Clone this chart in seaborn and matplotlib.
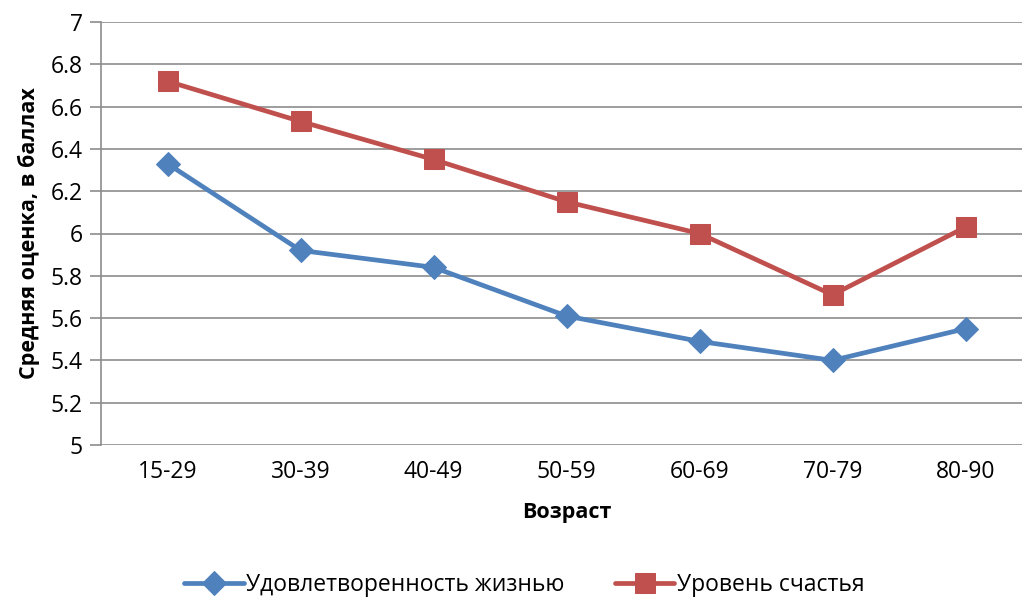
import matplotlib
matplotlib.use("Agg")
import matplotlib.pyplot as plt
import seaborn as sns
import pandas as pd

age_groups = ["15-29", "30-39", "40-49", "50-59", "60-69", "70-79", "80-90"]
life_satisfaction = [6.33, 5.92, 5.84, 5.61, 5.49, 5.40, 5.55]
happiness_level = [6.72, 6.53, 6.35, 6.15, 6.00, 5.71, 6.03]
series_names = ["Удовлетворенность жизнью", "Уровень счастья"]
y_ticks = [5, 5.2, 5.4, 5.6, 5.8, 6, 6.2, 6.4, 6.6, 6.8, 7]

sns.set_theme(style="white")
plt.rcParams["font.family"] = ["Open Sans", "DejaVu Sans"]
plt.rcParams["text.color"] = "black"
plt.rcParams["axes.labelcolor"] = "black"
plt.rcParams["xtick.labelcolor"] = "black"
plt.rcParams["ytick.labelcolor"] = "black"

blue = "#4F81BD"
red = "#C0504D"
grid_c = "#8C8C8C"

fig = plt.figure(figsize=(10.22, 6.02), dpi=100)
ax = fig.add_axes([101 / 1022, 1 - 445 / 602, 931 / 1022, (445 - 22) / 602])

df_blue = pd.DataFrame({"age": range(len(age_groups)), "value": life_satisfaction})
df_red = pd.DataFrame({"age": range(len(age_groups)), "value": happiness_level})

sns.lineplot(data=df_blue, x="age", y="value", ax=ax, color=blue, linewidth=3.4,
             marker="D", markersize=12, markeredgecolor=blue, label=series_names[0])
sns.lineplot(data=df_red, x="age", y="value", ax=ax, color=red, linewidth=3.4,
             marker="s", markersize=14, markeredgecolor=red, label=series_names[1])

ax.set_xlim(-0.5, len(age_groups) - 0.5)
ax.set_ylim(5, 7)
ax.set_yticks(y_ticks)
ax.set_yticklabels([f"{t:g}" for t in y_ticks], fontsize=16.5)
ax.set_xticks(range(len(age_groups)))
ax.set_xticklabels(age_groups, fontsize=16.5)
ax.tick_params(axis="x", length=0, pad=11)
ax.set_xticks([i - 0.5 for i in range(len(age_groups) + 1)], minor=True)
ax.tick_params(axis="x", which="minor", length=8, width=1.2, color=grid_c, direction="out")
ax.tick_params(axis="y", length=8, width=1.2, color=grid_c, direction="out", pad=5)
ax.xaxis.set_tick_params(bottom=True)
ax.yaxis.set_tick_params(left=True)

ax.grid(axis="y", color=grid_c, linewidth=1.2)
ax.set_axisbelow(True)
for side in ["top", "right", "bottom"]:
    ax.spines[side].set_visible(False)
ax.spines["left"].set_color(grid_c)
ax.spines["left"].set_linewidth(1.2)

ax.set_xlabel("Возраст", fontsize=15.5, fontweight="bold", labelpad=13)
ax.set_ylabel("Средняя оценка, в баллах", fontsize=15.5, fontweight="bold", labelpad=8)

handles, labels = ax.get_legend_handles_labels()
ax.get_legend().remove()
fig.legend(handles, labels, loc="center", bbox_to_anchor=(0.513, 1 - 585 / 602),
           ncol=2, frameon=False, fontsize=16.5, handlelength=2.6, columnspacing=2.2,
           handletextpad=0.1)

fig.savefig("out.png", dpi=100)
